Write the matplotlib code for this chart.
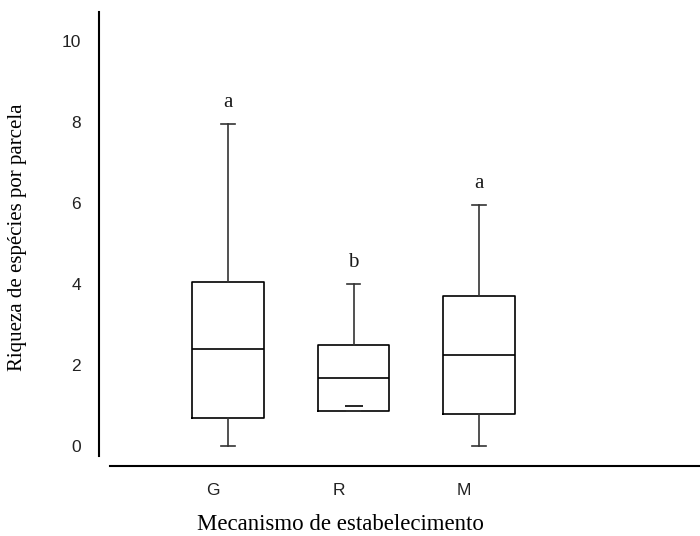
import matplotlib.pyplot as plt

# box statistics
grupos = ["G", "R", "M"]
whis_lo = [0.0, 0.86, 0.0]
q1 = [0.7, 0.86, 0.79]
mediana = [2.4, 1.68, 2.25]
q3 = [4.05, 2.5, 3.7]
whis_hi = [7.95, 4.0, 5.95]
media = [None, 1.0, None]
letras = ["a", "b", "a"]
yticks = [0, 2, 4, 6, 8, 10]

serif = "Liberation Serif"
narrow = ["Liberation Sans Narrow", "Liberation Sans"]

fig = plt.figure(figsize=(7, 5.36), dpi=100)
W, H = 700, 536
# axes from x=99..700 px, y=12..466 px
ax = fig.add_axes([99 / W, 1 - 466 / H, 601 / W, 454 / H])

pos = [1, 2, 3]
stats = []
for i, g in enumerate(grupos):
    s = {"label": g, "whislo": whis_lo[i], "q1": q1[i], "med": mediana[i],
         "q3": q3[i], "whishi": whis_hi[i], "fliers": []}
    s["mean"] = media[i] if media[i] is not None else float("nan")
    stats.append(s)

ax.bxp(stats, positions=pos, widths=0.57, capwidths=0.11, showmeans=True,
       boxprops=dict(color="black", linewidth=1.2),
       medianprops=dict(color="black", linewidth=1.2),
       whiskerprops=dict(color="#333333", linewidth=1.2),
       capprops=dict(color="#333333", linewidth=1.2),
       meanprops=dict(marker="_", markersize=13, markeredgecolor="black",
                      markeredgewidth=1.2),
       manage_ticks=False)

for p, hi, l in zip(pos, whis_hi, letras):
    ax.text(p, hi + 0.3, l, ha="center", va="bottom", fontsize=15,
            family=serif, color="#1a1a1a")

ax.set_xlim(1 - 129 / 125.5, 1 + 472 / 125.5)
ax.set_ylim(-20 / 40.5, 434 / 40.5)

ax.set_yticks(yticks)
ax.set_yticklabels([str(t) for t in yticks], family=narrow, fontsize=12.5,
                   color="#222222")
ax.set_xticks([p - 0.12 for p in pos])
ax.set_xticklabels(grupos, family=narrow, fontsize=12.5, color="#222222")
ax.tick_params(axis="y", length=0, pad=13)
ax.tick_params(axis="x", length=0, pad=12)

for s in ["top", "right"]:
    ax.spines[s].set_visible(False)
ax.spines["left"].set_bounds(-10 / 40.5, 434 / 40.5)
ax.spines["left"].set_linewidth(1.5)
ax.spines["bottom"].set_bounds(1 - 118 / 125.5, 1 + 472 / 125.5)
ax.spines["bottom"].set_linewidth(1.5)

fig.text(18 / W, 1 - 237 / H, "Riqueza de espécies por parcela", rotation=90,
         ha="center", va="center", fontsize=15, family=serif)
fig.text(340 / W, 1 - 524 / H, "Mecanismo de estabelecimento",
         ha="center", va="center", fontsize=16.5, family=serif)

fig.savefig("out.png", dpi=100)
